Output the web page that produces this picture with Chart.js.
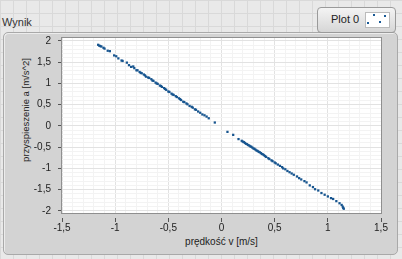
<!DOCTYPE html>
<html>
<head>
<meta charset="utf-8">
<script src="https://cdn.jsdelivr.net/npm/chart.js@4.4.1/dist/chart.umd.min.js"></script>
<style>
  html, body { margin: 0; padding: 0; }
  body {
    width: 402px; height: 259px; overflow: hidden; position: relative;
    background-color: #e9e9e9;
    background-image:
      linear-gradient(to right, #d9d9d9 1px, transparent 1px),
      linear-gradient(to bottom, #d9d9d9 1px, transparent 1px);
    background-size: 13px 13px;
    font-family: "Liberation Sans", "DejaVu Sans", sans-serif;
  }
  .frame {
    position: absolute; left: 3px; top: 32px; width: 393px; height: 221px;
    background: #d3d3d3; border: 1px solid #a9a9a9; border-radius: 5px;
    box-shadow: inset 1px 1px 0 #ececec;
  }
  .caption { position: absolute; left: 2px; top: 16px; font-size: 11px; color: #333; }
  .legend {
    position: absolute; left: 317px; top: 7px; width: 77px; height: 24px;
    border: 1px solid #9a9a9a; border-radius: 4px;
    background: linear-gradient(#f4f4f4, #d6d6d6);
  }
  .legend span { position: absolute; left: 13px; top: 5px; font-size: 11px; color: #222; }
  .swatch {
    position: absolute; left: 47px; top: 4px; width: 23px; height: 14px;
    background: #fff; border: 1px solid #bbb;
  }
  .swatch i { position: absolute; width: 2px; height: 2px; background: #1a5a96; }
  .xtitle { position: absolute; left: 0; width: 443px; top: 236px; text-align: center; font-size: 10px; color: #222; }
  .ytitle {
    position: absolute; left: -54px; top: 102px; width: 160px; height: 16px; line-height: 16px;
    text-align: center; font-size: 9.5px; color: #222; white-space: nowrap;
    transform: rotate(-90deg);
  }
  canvas { position: absolute; left: 0; top: 0; }
</style>
</head>
<body>
<div class="caption">Wynik</div>
<div class="frame"></div>
<div class="legend"><span>Plot 0</span><div class="swatch"><i style="left:7px;top:1px"></i><i style="left:18px;top:2px"></i><i style="left:1px;top:9px"></i><i style="left:13px;top:8px"></i></div></div>
<div class="xtitle">prędkość v [m/s]</div>
<div class="ytitle">przyspieszenie a [m/s^2]</div>
<canvas id="wynik" width="402" height="259"></canvas>
<script>
const xMajor = [-1.5, -1, -0.5, 0, 0.5, 1, 1.5];
const yMajor = [-2, -1.5, -1, -0.5, 0, 0.5, 1, 1.5, 2];

const speedV = [
  -1.16, -1.15, -1.14, -1.13, -1.11, -1.10, -1.07, -1.05, -1.01, -0.99, -0.97, -0.94, -0.93, -0.89, -0.87, -0.85,
  -0.83, -0.82, -0.80, -0.79, -0.77, -0.76, -0.75, -0.73, -0.72, -0.71, -0.69, -0.68, -0.66, -0.65, -0.64, -0.62,
  -0.61, -0.60, -0.58, -0.57, -0.56, -0.54, -0.53, -0.52, -0.50, -0.49, -0.47, -0.46, -0.45, -0.43, -0.42, -0.40,
  -0.39, -0.38, -0.36, -0.35, -0.33, -0.32, -0.30, -0.28, -0.27, -0.25, -0.24, -0.22, -0.20, -0.18, -0.16, -0.14,
  -0.12, -0.063,
  0.056, 0.11, 0.16, 0.19, 0.20, 0.21, 0.22, 0.23, 0.24, 0.25, 0.26, 0.27, 0.28, 0.29, 0.30, 0.31, 0.32, 0.33,
  0.34, 0.35, 0.36, 0.37, 0.38, 0.39, 0.40, 0.41, 0.42, 0.44, 0.45, 0.47, 0.48, 0.50, 0.51, 0.53, 0.55, 0.57,
  0.58, 0.60, 0.62, 0.64, 0.66, 0.68, 0.71, 0.73, 0.75, 0.78, 0.80, 0.83, 0.86, 0.88, 0.91, 0.94, 0.97, 1.00,
  1.03, 1.05, 1.08, 1.11, 1.13, 1.14, 1.145, 1.15
];
const accelA = [
  1.91, 1.89, 1.88, 1.87, 1.84, 1.82, 1.77, 1.76, 1.66, 1.64, 1.59, 1.54, 1.53, 1.49, 1.43, 1.39,
  1.40, 1.36, 1.31, 1.31, 1.27, 1.25, 1.24, 1.21, 1.19, 1.16, 1.14, 1.13, 1.10, 1.07, 1.06, 1.02,
  1.00, 0.99, 0.95, 0.94, 0.92, 0.89, 0.87, 0.85, 0.81, 0.80, 0.76, 0.74, 0.73, 0.70, 0.68, 0.65,
  0.63, 0.61, 0.57, 0.56, 0.53, 0.51, 0.47, 0.45, 0.43, 0.39, 0.38, 0.34, 0.31, 0.27, 0.25, 0.22,
  0.18, 0.08,
  -0.14, -0.21, -0.31, -0.35, -0.37, -0.38, -0.40, -0.42, -0.43, -0.45, -0.46, -0.48, -0.49, -0.51, -0.53, -0.54, -0.56, -0.58,
  -0.59, -0.61, -0.62, -0.64, -0.66, -0.67, -0.69, -0.71, -0.73, -0.76, -0.78, -0.81, -0.83, -0.86, -0.88, -0.91, -0.94, -0.97,
  -1.00, -1.02, -1.06, -1.09, -1.12, -1.15, -1.19, -1.23, -1.26, -1.30, -1.33, -1.40, -1.44, -1.49, -1.52, -1.58, -1.62, -1.66,
  -1.70, -1.72, -1.77, -1.82, -1.86, -1.90, -1.93, -1.95
];

// major ticks plus 4 minor divisions between each pair
function withMinor(major) {
  const out = [];
  for (let i = 0; i < major.length; i++) {
    out.push({ value: major[i], major: true });
    if (i < major.length - 1) {
      const step = (major[i + 1] - major[i]) / 5;
      for (let k = 1; k < 5; k++) out.push({ value: Math.round((major[i] + k * step) * 1000) / 1000, major: false });
    }
  }
  return out;
}

const isMajor = v => Math.abs(v * 2 - Math.round(v * 2)) < 1e-6;
const fmt = v => String(v).replace('.', ',');

const frameBorder = {
  id: 'frameBorder',
  afterDraw(chart) {
    const a = chart.chartArea, ctx = chart.ctx;
    ctx.save();
    ctx.strokeStyle = '#8f8f8f';
    ctx.lineWidth = 1;
    ctx.strokeRect(a.left - 0.5, a.top - 0.5, a.right - a.left + 1, a.bottom - a.top + 1);
    ctx.restore();
  }
};

const plotBg = {
  id: 'plotBg',
  beforeDraw(chart) {
    const a = chart.chartArea, ctx = chart.ctx;
    ctx.save();
    ctx.fillStyle = '#ffffff';
    ctx.fillRect(a.left, a.top, a.right - a.left, a.bottom - a.top);
    ctx.restore();
  }
};

function gridOpts() {
  return {
    color: c => (c.tick && isMajor(c.tick.value)) ? '#e2e2e2' : '#f3f3f3',
    tickColor: c => (c.tick && isMajor(c.tick.value)) ? '#555' : 'rgba(0,0,0,0)',
    tickLength: 9,
    tickBorderDash: [0, 5, 4, 30]
  };
}

new Chart(document.getElementById('wynik').getContext('2d'), {
  type: 'scatter',
  data: {
    datasets: [{
      label: 'Plot 0',
      data: speedV.map((v, i) => ({ x: v, y: accelA[i] })),
      backgroundColor: '#17558f',
      borderColor: '#17558f',
      pointStyle: 'rect',
      pointRadius: 1.6,
      borderWidth: 0
    }]
  },
  options: {
    responsive: false,
    animation: false,
    layout: { padding: { top: 38, right: 21, left: 0, bottom: 0 } },
    plugins: { legend: { display: false }, tooltip: { enabled: false } },
    scales: {
      x: {
        type: 'linear', min: -1.5, max: 1.5,
        afterBuildTicks: s => { s.ticks = withMinor(xMajor); },
        afterFit: s => { s.height = 46; },
        border: { display: false },
        grid: gridOpts(),
        ticks: {
          autoSkip: false, maxRotation: 0, padding: 0, color: '#222',
          font: { family: 'Liberation Sans', size: 10 },
          callback: v => isMajor(v) ? fmt(v) : ''
        }
      },
      y: {
        type: 'linear', min: -2.05, max: 2.07,
        afterBuildTicks: s => { s.ticks = withMinor(yMajor); },
        afterFit: s => { s.width = 62; },
        border: { display: false },
        grid: gridOpts(),
        ticks: {
          autoSkip: false, padding: 2, color: '#222',
          font: { family: 'Liberation Sans', size: 10 },
          callback: v => isMajor(v) ? fmt(v) : ''
        }
      }
    }
  },
  plugins: [plotBg, frameBorder]
});
</script>
</body>
</html>
